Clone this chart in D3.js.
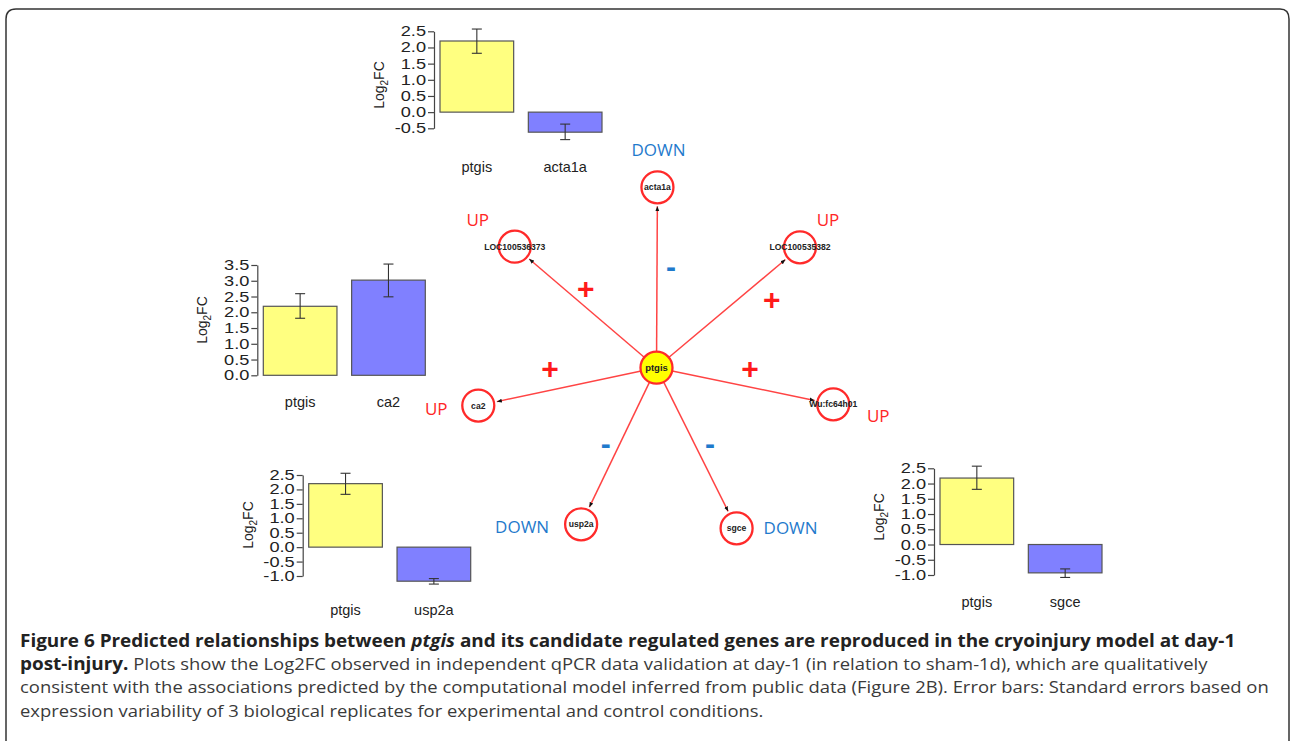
<!DOCTYPE html>
<html lang="en">
<head>
<meta charset="UTF-8">
<title>Figure 6 - ptgis network</title>
<script src="https://d3js.org/d3.v7.min.js"></script>
<style>
  body { margin: 0; background: #fff; }
  svg { display: block; }
  .tick text, .bar-label, .axis-title { font-family: "Liberation Sans", Arial, sans-serif; fill: #222; }
  .tick text { font-size: 14px; }
  .bar-label { font-size: 14.5px; }
  .axis-title { font-size: 14px; }
  .node-label { font-family: "Liberation Sans", Arial, sans-serif; font-weight: bold; fill: #222; }
  .reg { font-family: "Open Sans", sans-serif; font-size: 17px; }
  .caption { font-family: "Open Sans", sans-serif; font-size: 16.8px; fill: #3a3a3a; }
</style>
</head>
<body>
<svg width="1290" height="741"></svg>
<script>
// network
const hub = 'ptgis';
const targets = ['acta1a', 'LOC100536373', 'LOC100535382', 'ca2', 'Wu:fc64h01', 'usp2a', 'sgce'];
const regulation = ['DOWN', 'UP', 'UP', 'UP', 'UP', 'DOWN', 'DOWN'];
const edgeSign = ['-', '+', '+', '+', '+', '-', '-'];

// qPCR bar panels (Log2FC, error bar ends)
const panelGenes = ['acta1a', 'ca2', 'usp2a', 'sgce'];
const ptgisFC = [2.20, 2.19, 2.20, 2.18];
const ptgisLow = [1.82, 1.81, 1.83, 1.81];
const ptgisHigh = [2.57, 2.59, 2.56, 2.57];
const targetFC = [-0.62, 3.02, -1.18, -0.93];
const targetLow = [-0.85, 2.49, -1.28, -1.08];
const targetHigh = [-0.37, 3.53, -1.09, -0.80];
const panelTicks = [
  [-0.5, 0.0, 0.5, 1.0, 1.5, 2.0, 2.5],
  [0.0, 0.5, 1.0, 1.5, 2.0, 2.5, 3.0, 3.5],
  [-1.0, -0.5, 0.0, 0.5, 1.0, 1.5, 2.0, 2.5],
  [-1.0, -0.5, 0.0, 0.5, 1.0, 1.5, 2.0, 2.5]
];

const captionLines = [
  [['Figure 6 Predicted relationships between ', 'b'], ['ptgis', 'bi'], [' and its candidate regulated genes are reproduced in the cryoinjury model at day-1', 'b']],
  [['post-injury.', 'b'], [' Plots show the Log2FC observed in independent qPCR data validation at day-1 (in relation to sham-1d), which are qualitatively', 'r']],
  [['consistent with the associations predicted by the computational model inferred from public data (Figure 2B). Error bars: Standard errors based on', 'r']],
  [['expression variability of 3 biological replicates for experimental and control conditions.', 'r']]
];

// layout
const panelLayout = [
  { axisX: 434, top: 31.3, bottom: 128.3, labelY: 167, titleY: 85 },
  { axisX: 257.3, top: 265, bottom: 375.3, labelY: 402, titleY: 320 },
  { axisX: 302.7, top: 475, bottom: 576, labelY: 610, titleY: 525 },
  { axisX: 934, top: 468.3, bottom: 575, labelY: 602, titleY: 517 }
];
const hubPos = [656.5, 367.7];
const nodeAngle = [0.3, -49.5, 50, -102, 101.7, 205.7, 153.5];   // degrees, clockwise from north
const nodeDist = [180.4, 186.4, 187.3, 182.2, 180.5, 173.8, 179.5];
const regOffset = [[1, -37], [-37, -27], [28, -27], [-42, 3], [45, 12], [-59, 3], [54, 0]];
const signOffset = [[14.5, -101.7], [-70.8, -78.7], [115.2, -67.7], [-106.5, 1.6], [93.5, 1.6], [-50.8, 75.6], [53.5, 75.6]];
const nodeR = 16;

const svg = d3.select('svg');

// frame
svg.append('path')
  .attr('d', 'M6,760 V19 Q6,9 16,9 H1280 Q1289,9 1289,19 V760')
  .attr('fill', 'none')
  .attr('stroke', '#333')
  .attr('stroke-width', 1.5);

// bar panels
const fmt = v => v.toFixed(1);
panelGenes.forEach((gene, i) => {
  const L = panelLayout[i];
  const ticks = panelTicks[i];
  const g = svg.append('g');

  const y = d3.scaleLinear()
    .domain([ticks[0], ticks[ticks.length - 1]])
    .range([L.bottom, L.top]);
  const x = d3.scaleBand()
    .domain(['ptgis', gene])
    .range([L.axisX + 6, L.axisX + 6 + 162])
    .paddingInner(0.166);

  const axis = g.append('g')
    .attr('transform', `translate(${L.axisX},0)`)
    .call(d3.axisLeft(y).tickValues(ticks).tickFormat(fmt).tickSize(6).tickSizeOuter(0).tickPadding(2));
  axis.select('.domain').attr('stroke', '#444').attr('stroke-width', 1.2);
  axis.selectAll('.tick line').attr('stroke', '#444').attr('stroke-width', 1.2);
  // the source plot's tick labels are noticeably wide
  axis.selectAll('.tick text')
    .attr('fill', '#222')
    .attr('x', 0)
    .attr('transform', 'translate(-8,0) scale(1.3,1)');

  const rows = [
    { name: 'ptgis', v: ptgisFC[i], lo: ptgisLow[i], hi: ptgisHigh[i], fill: '#ffff80' },
    { name: gene, v: targetFC[i], lo: targetLow[i], hi: targetHigh[i], fill: '#8080ff' }
  ];

  g.selectAll('rect.bar').data(rows).enter().append('rect')
    .attr('class', 'bar')
    .attr('x', d => x(d.name))
    .attr('width', x.bandwidth())
    .attr('y', d => Math.min(y(0), y(d.v)))
    .attr('height', d => Math.abs(y(d.v) - y(0)))
    .attr('fill', d => d.fill)
    .attr('stroke', '#555')
    .attr('stroke-width', 1.2);

  const err = g.selectAll('g.err').data(rows).enter().append('g')
    .attr('class', 'err')
    .attr('stroke', '#333')
    .attr('stroke-width', 1.1);
  err.append('line')
    .attr('x1', d => x(d.name) + x.bandwidth() / 2)
    .attr('x2', d => x(d.name) + x.bandwidth() / 2)
    .attr('y1', d => y(d.lo))
    .attr('y2', d => y(d.hi));
  ['lo', 'hi'].forEach(k => {
    err.append('line')
      .attr('x1', d => x(d.name) + x.bandwidth() / 2 - 5)
      .attr('x2', d => x(d.name) + x.bandwidth() / 2 + 5)
      .attr('y1', d => y(d[k]))
      .attr('y2', d => y(d[k]));
  });

  g.selectAll('text.bar-label').data(rows).enter().append('text')
    .attr('class', 'bar-label')
    .attr('x', d => x(d.name) + x.bandwidth() / 2)
    .attr('y', L.labelY + 5)
    .attr('text-anchor', 'middle')
    .text(d => d.name);

  const t = g.append('text')
    .attr('class', 'axis-title')
    .attr('transform', `translate(${L.axisX - 50},${L.titleY}) rotate(-90)`)
    .attr('text-anchor', 'middle');
  t.append('tspan').text('Log');
  t.append('tspan').attr('dy', 4).style('font-size', '10px').text('2');
  t.append('tspan').attr('dy', -4).text('FC');
});

// network
const defs = svg.append('defs');
defs.append('marker')
  .attr('id', 'arrow')
  .attr('viewBox', '0 0 10 10')
  .attr('refX', 10).attr('refY', 5)
  .attr('markerWidth', 5).attr('markerHeight', 5)
  .attr('markerUnits', 'userSpaceOnUse')
  .attr('orient', 'auto')
  .append('path').attr('d', 'M0,1 L10,5 L0,9 Z').attr('fill', '#111');

const nodes = targets.map((name, i) => {
  const p = d3.pointRadial(nodeAngle[i] * Math.PI / 180, nodeDist[i]);
  return { name, reg: regulation[i], sign: edgeSign[i], x: hubPos[0] + p[0], y: hubPos[1] + p[1], i };
});

const net = svg.append('g');
net.selectAll('line.edge').data(nodes).enter().append('line')
  .attr('class', 'edge')
  .attr('x1', hubPos[0]).attr('y1', hubPos[1])
  .attr('x2', d => d.x - (d.x - hubPos[0]) / Math.hypot(d.x - hubPos[0], d.y - hubPos[1]) * (nodeR + 3))
  .attr('y2', d => d.y - (d.y - hubPos[1]) / Math.hypot(d.x - hubPos[0], d.y - hubPos[1]) * (nodeR + 3))
  .attr('stroke', '#ff4444')
  .attr('stroke-width', 1.5)
  .attr('marker-end', 'url(#arrow)');

const nodeG = net.selectAll('g.node').data(nodes).enter().append('g')
  .attr('transform', d => `translate(${d.x},${d.y})`);
nodeG.append('circle')
  .attr('r', nodeR)
  .attr('fill', 'none')
  .attr('stroke', '#ff2a2a')
  .attr('stroke-width', 2.3);
nodeG.append('text')
  .attr('class', 'node-label')
  .attr('text-anchor', 'middle')
  .attr('dy', 3)
  .style('font-size', '8.6px')
  .text(d => d.name);

const hubG = net.append('g').attr('transform', `translate(${hubPos[0]},${hubPos[1]})`);
hubG.append('circle').attr('r', nodeR).attr('fill', '#ffff00').attr('stroke', '#ff2a2a').attr('stroke-width', 2.3);
hubG.append('text').attr('class', 'node-label').attr('text-anchor', 'middle').attr('dy', 3.5)
  .style('font-size', '9.5px').text(hub);

net.selectAll('text.reg').data(nodes).enter().append('text')
  .attr('class', 'reg')
  .attr('x', d => d.x + regOffset[d.i][0])
  .attr('y', d => d.y + regOffset[d.i][1] + 6)
  .attr('text-anchor', 'middle')
  .attr('fill', d => d.reg === 'UP' ? '#ff2626' : '#1f7acc')
  .text(d => d.reg);

net.selectAll('text.sign').data(nodes).enter().append('text')
  .attr('class', 'sign')
  .attr('x', d => hubPos[0] + signOffset[d.i][0])
  .attr('y', d => hubPos[1] + signOffset[d.i][1] + (d.sign === '+' ? 10 : 11))
  .attr('text-anchor', 'middle')
  .style('font-family', '"Liberation Sans", Arial, sans-serif')
  .style('font-weight', 'bold')
  .style('font-size', '30px')
  .attr('fill', d => d.sign === '+' ? '#ff1a1a' : '#1f7acc')
  .text(d => d.sign);

// caption (horizontally widened a little to match the source's line lengths)
const cap = svg.append('g').attr('class', 'caption')
  .attr('transform', 'translate(20,0) scale(1.097,1)');
captionLines.forEach((parts, li) => {
  const t = cap.append('text').attr('x', 0).attr('y', 647 + li * 23.2);
  parts.forEach(([s, st]) => {
    t.append('tspan')
      .style('font-weight', st === 'r' ? 'normal' : 'bold')
      .style('font-style', st === 'bi' ? 'italic' : 'normal')
      .style('font-size', st === 'r' ? null : '17.25px')
      .attr('fill', st === 'r' ? '#3a3a3a' : '#222')
      .text(s);
  });
});
</script>
</body>
</html>
